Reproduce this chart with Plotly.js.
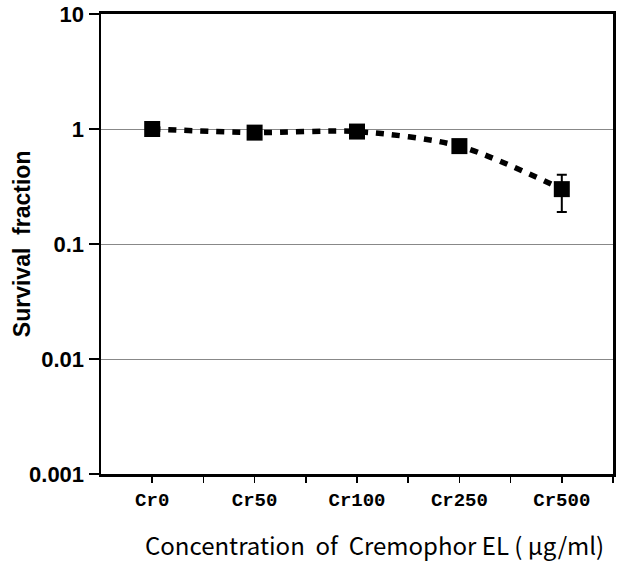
<!DOCTYPE html>
<html>
<head>
<meta charset="utf-8">
<script src="https://cdn.plot.ly/plotly-3.0.1.min.js"></script>
<style>html,body{margin:0;padding:0;background:#fff;}#chart{width:629px;height:561px;}</style>
</head>
<body>
<div id="chart"></div>
<script>
const categories = ["Cr0", "Cr50", "Cr100", "Cr250", "Cr500"];
const survival = [1.0, 0.93, 0.95, 0.71, 0.30];
const errPlus = [0, 0, 0, 0, 0.10];
const errMinus = [0, 0, 0, 0, 0.11];
const yTickVals = [0.001, 0.01, 0.1, 1, 10];
const yTickText = ["0.001", "0.01", "0.1", "1", "10"];
const xTitle = "Concentration  of  Cremophor EL ( \u03bcg/ml)";
const yTitle = "Survival  fraction";

const xIdx = categories.map((c, i) => i);
const xTickVals = [];
const xTickText = [];
categories.forEach((c, i) => { xTickVals.push(i); xTickText.push(c); xTickVals.push(i + 0.5); xTickText.push(""); });

const trace = {
  x: xIdx,
  y: survival,
  type: "scatter",
  mode: "lines+markers",
  line: {color: "#000", width: 5.5, dash: "8px,8px", shape: "spline", smoothing: 0.8},
  marker: {symbol: "square", size: 16, color: "#000"},
  error_y: {type: "data", symmetric: false, array: errPlus, arrayminus: errMinus, color: "#000", thickness: 2, width: 5},
  hoverinfo: "skip"
};

const layout = {
  width: 629, height: 561,
  margin: {l: 101, r: 16, t: 14, b: 87},
  paper_bgcolor: "#fff", plot_bgcolor: "#fff",
  showlegend: false,
  xaxis: {
    range: [-0.5, 4.5],
    tickmode: "array", tickvals: xTickVals, ticktext: xTickText,
    ticks: "outside", ticklen: 6, tickwidth: 1.5, tickcolor: "#000",
    showgrid: false, zeroline: false,
    showline: true, linecolor: "#000", linewidth: 3, mirror: true,
    tickfont: {family: "Liberation Mono, monospace", size: 19, color: "#000", weight: "bold"}
  },
  yaxis: {
    type: "log",
    range: [-3, 1],
    tickmode: "array", tickvals: yTickVals, ticktext: yTickText,
    ticks: "outside", ticklen: 10, tickwidth: 1.5, tickcolor: "#000",
    showgrid: true, gridcolor: "#888", gridwidth: 1,
    zeroline: false,
    showline: true, linecolor: "#000", linewidth: 2.5, mirror: true,
    tickfont: {family: "Liberation Sans, Arial, sans-serif", size: 22, color: "#000", weight: "bold"}
  },
  annotations: [
    {text: xTitle, xref: "paper", yref: "paper", x: 0.535, y: -0.154, xanchor: "center", yanchor: "middle", showarrow: false,
     font: {family: "Noto Sans CJK JP, sans-serif", size: 24, color: "#000"}},
    {text: yTitle, xref: "paper", yref: "paper", x: -0.154, y: 0.5, xanchor: "center", yanchor: "middle", showarrow: false, textangle: -90,
     font: {family: "Liberation Sans, Arial, sans-serif", size: 23, color: "#000", weight: "bold"}}
  ]
};

Plotly.newPlot("chart", [trace], layout, {staticPlot: true, displayModeBar: false});
</script>
</body>
</html>
